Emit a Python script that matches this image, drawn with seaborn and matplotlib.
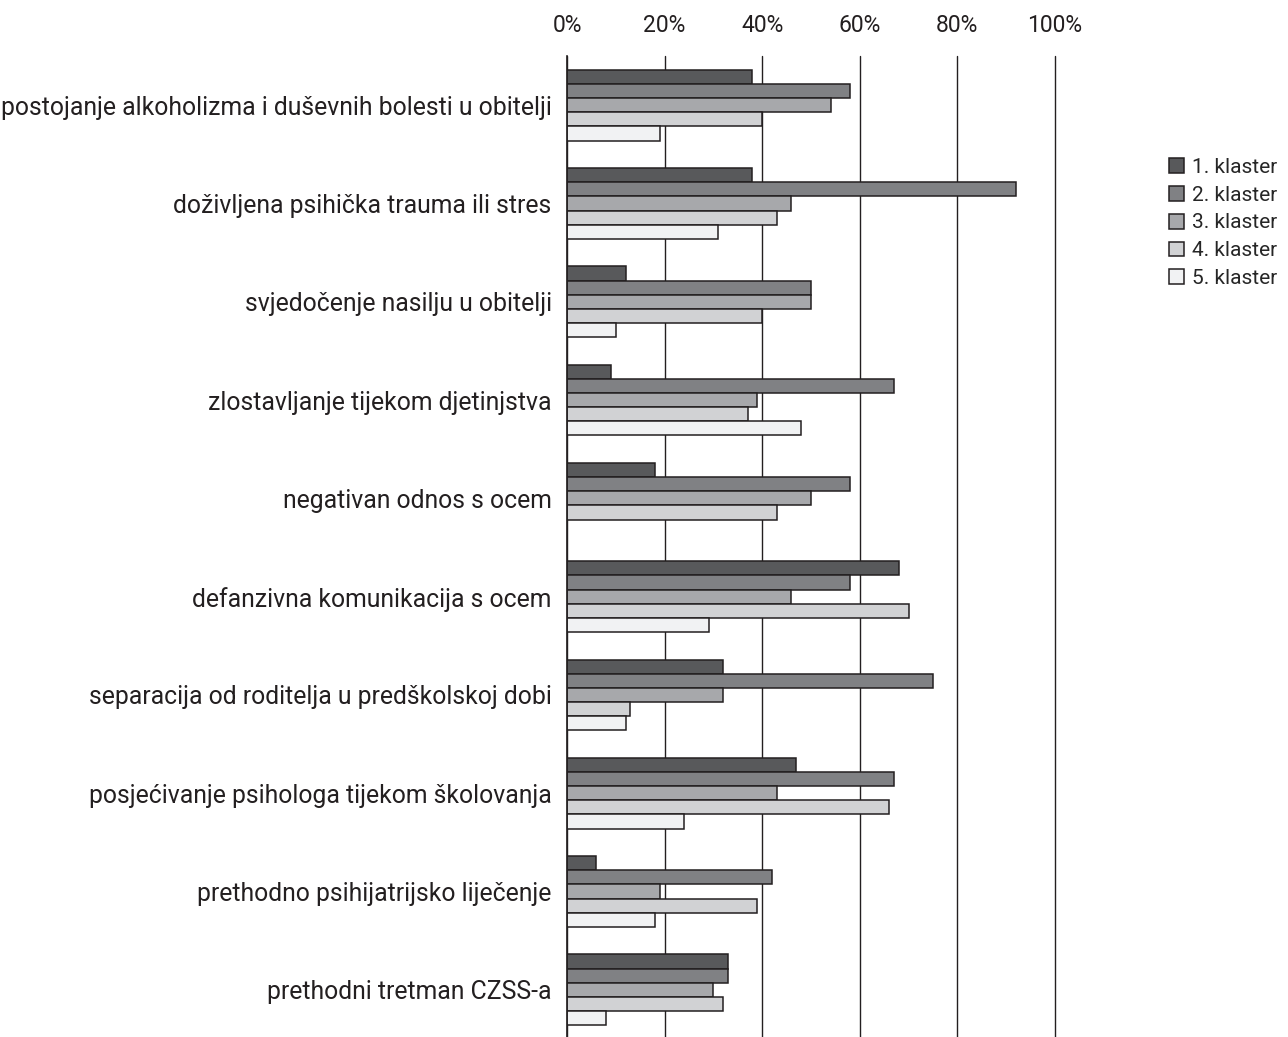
import numpy as np
import pandas as pd
import matplotlib
matplotlib.use('Agg')
import matplotlib.pyplot as plt
import seaborn as sns

# Data (percent of each cluster)
categories = [
    'postojanje alkoholizma i duševnih bolesti u obitelji',
    'doživljena psihička trauma ili stres',
    'svjedočenje nasilju u obitelji',
    'zlostavljanje tijekom djetinjstva',
    'negativan odnos s ocem',
    'defanzivna komunikacija s ocem',
    'separacija od roditelja u predškolskoj dobi',
    'posjećivanje psihologa tijekom školovanja',
    'prethodno psihijatrijsko liječenje',
    'prethodni tretman CZSS-a',
]
clusters = ['1. klaster', '2. klaster', '3. klaster', '4. klaster', '5. klaster']

klaster1 = [38, 38, 12, 9, 18, 68, 32, 47, 6, 33]
klaster2 = [58, 92, 50, 67, 58, 58, 75, 67, 42, 33]
klaster3 = [54, 46, 50, 39, 50, 46, 32, 43, 19, 30]
klaster4 = [40, 43, 40, 37, 43, 70, 13, 66, 39, 32]
klaster5 = [19, 31, 10, 48, 0, 29, 12, 24, 18, 8]

tick_values = [0, 20, 40, 60, 80, 100]
tick_labels = ['0%', '20%', '40%', '60%', '80%', '100%']

palette = ['#58595b', '#808184', '#a7a8ab', '#d1d2d4', '#f1f2f3']

rows = []
for name, vals in zip(clusters, [klaster1, klaster2, klaster3, klaster4, klaster5]):
    for cat, v in zip(categories, vals):
        rows.append({'kategorija': cat, 'klaster': name, 'postotak': v})
df = pd.DataFrame(rows)

sns.set_style('white')
plt.rcParams['font.family'] = ['Roboto', 'DejaVu Sans']

fig = plt.figure(figsize=(12.88, 10.37), dpi=100)
ax = fig.add_axes([567 / 1288, 1 - 1039 / 1037, 488 / 1288, 983 / 1037])

sns.barplot(data=df, y='kategorija', x='postotak', hue='klaster', order=categories,
            hue_order=clusters, palette=palette, orient='h', width=0.72,
            edgecolor='#231f20', linewidth=1.1, saturation=1, errorbar=None, ax=ax)

ax.set_xlim(0, 100)
ax.set_ylim(9.5, -0.5)
ax.set_xticks(tick_values)
ax.set_xticklabels(tick_labels, fontsize=16.5, color='#231f20')
ax.xaxis.tick_top()
ax.tick_params(axis='x', length=0, pad=14)
ax.grid(axis='x', color='#231f20', linewidth=1.0)
ax.set_axisbelow(True)
for gl in ax.get_xgridlines():
    gl.set_clip_on(False)

ax.set_yticks(range(len(categories)))
ax.set_yticklabels(categories, fontsize=17.8, color='#231f20')
ax.set_yticks(np.arange(0.5, len(categories) - 1), minor=True)
ax.tick_params(axis='y', which='major', length=0, pad=11)
ax.tick_params(axis='y', which='minor', length=15, width=1.2, color='#6d6e71')

ax.set_xlabel('')
ax.set_ylabel('')
for side in ['top', 'right', 'bottom']:
    ax.spines[side].set_visible(False)
ax.spines['left'].set_color('#231f20')
ax.spines['left'].set_linewidth(1.2)

handles, labels = ax.get_legend_handles_labels()
ax.legend(handles, labels, loc='upper left', bbox_to_anchor=(1169 / 1288, 1 - 158 / 1037),
          bbox_transform=fig.transFigure, frameon=False, fontsize=15,
          handlelength=0.7, handleheight=0.7, handletextpad=0.4, labelspacing=0.42,
          borderaxespad=0, borderpad=0)

plt.savefig('out.png', dpi=100)
